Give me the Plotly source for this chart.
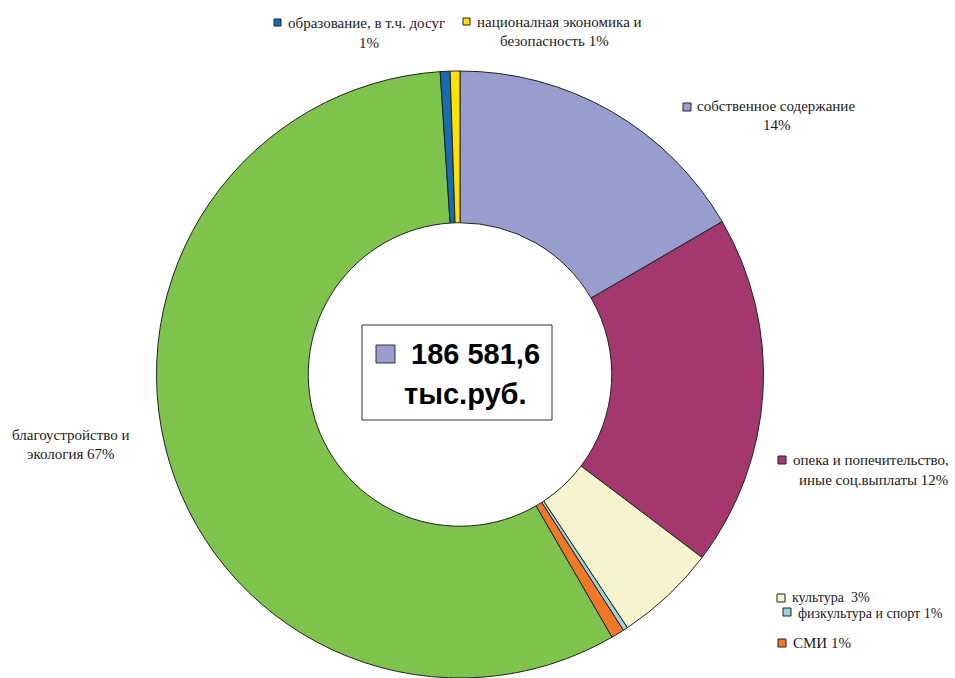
import plotly.graph_objects as go

W, H = 955, 678

# ---- data (slice sizes, clockwise from 12 o'clock) ----
categories = [
    "собственное содержание",
    "опека и попечительство, иные соц.выплаты",
    "культура",
    "физкультура и спорт",
    "СМИ",
    "благоустройство и экология",
    "образование, в т.ч. досуг",
    "националная экономика и безопасность",
]
values = [16.6, 18.7, 5.4, 0.25, 0.7, 57.3, 0.52, 0.52]
colors = ["#979DCC", "#A4386E", "#F6F3CE", "#9DD4DB", "#F07828", "#7EC34B", "#1A6BB0", "#FFE100"]

# label lines as printed on the chart
label_lines = [
    ["собственное содержание", "14%"],
    ["опека и попечительство,", "иные соц.выплаты 12%"],
    ["культура  3%"],
    ["физкультура и спорт 1%"],
    ["СМИ 1%"],
    ["благоустройство и", "экология 67%"],
    ["образование, в т.ч. досуг", "1%"],
    ["националная экономика и", "безопасность 1%"],
]
total_lines = ["186 581,6", "тыс.руб."]

# ---- layout helpers (window pixel -> paper) ----
def px(x):
    return x / W

def py(y):
    return 1 - y / H

fig = go.Figure(go.Pie(
    labels=categories,
    values=values,
    sort=False,
    direction="clockwise",
    rotation=0,
    hole=0.5,
    marker=dict(colors=colors, line=dict(color="#222222", width=1)),
    textinfo="none",
    hoverinfo="label+percent",
    showlegend=False,
    domain=dict(x=[px(460 - 304), px(460 + 304)], y=[0, py(71)]),
))

# label placement (layout): for each line -> (x, y, anchor, size); square box per label or None
label_layout = [
    dict(square=(683, 103, 691, 111), lines=[(695, 106, "left", 15), (777, 125, "center", 15)]),
    dict(square=(778, 456, 786, 464), lines=[(791, 460, "left", 15), (797, 480, "left", 15)]),
    dict(square=(777, 594, 785, 602), lines=[(790, 597, "left", 14)]),
    dict(square=(783, 608, 791, 616), lines=[(796, 613, "left", 14)]),
    dict(square=(778, 639, 786, 647), lines=[(791, 643, "left", 15)]),
    dict(square=None, lines=[(71, 435, "center", 15), (71, 454, "center", 15)]),
    dict(square=(274, 19, 281, 26), lines=[(286, 23, "left", 15), (369, 43, "center", 15)]),
    dict(square=(463, 18, 470, 25), lines=[(475, 22, "left", 15), (554, 41, "center", 15)]),
]

shapes = []
annotations = []
for i, lay in enumerate(label_layout):
    if lay["square"] is not None:
        x0, y0, x1, y1 = lay["square"]
        shapes.append(dict(type="rect", xref="paper", yref="paper",
                           x0=px(x0), x1=px(x1), y0=py(y1), y1=py(y0),
                           fillcolor=colors[i], line=dict(color="#222222", width=1)))
    for (x, y, anc, fs), txt in zip(lay["lines"], label_lines[i]):
        annotations.append(dict(xref="paper", yref="paper", x=px(x), y=py(y),
                                xanchor=anc, yanchor="middle", text=txt, showarrow=False,
                                font=dict(family="Liberation Serif, Times New Roman, serif",
                                          size=fs, color="#1a1a1a")))

# centre box with total
shapes.append(dict(type="rect", xref="paper", yref="paper",
                   x0=px(362), x1=px(552), y0=py(420), y1=py(325),
                   fillcolor="white", line=dict(color="#333333", width=1)))
shapes.append(dict(type="rect", xref="paper", yref="paper",
                   x0=px(376), x1=px(395), y0=py(363), y1=py(345),
                   fillcolor=colors[0], line=dict(color="#333333", width=1)))
annotations.append(dict(xref="paper", yref="paper", x=px(475), y=py(354),
                        xanchor="center", yanchor="middle", text="<b>%s</b>" % total_lines[0],
                        showarrow=False,
                        font=dict(family="Liberation Sans, Arial, sans-serif", size=29, color="#000000")))
annotations.append(dict(xref="paper", yref="paper", x=px(465), y=py(394),
                        xanchor="center", yanchor="middle", text="<b>%s</b>" % total_lines[1],
                        showarrow=False,
                        font=dict(family="Liberation Sans, Arial, sans-serif", size=29, color="#000000")))

fig.update_layout(
    width=W, height=H,
    margin=dict(l=0, r=0, t=0, b=0),
    paper_bgcolor="white",
    plot_bgcolor="white",
    shapes=shapes,
    annotations=annotations,
)

fig.write_html(
    "out.html",
    config={"displayModeBar": False},
    post_script="document.body.style.margin='0';document.body.style.overflow='hidden';",
)
